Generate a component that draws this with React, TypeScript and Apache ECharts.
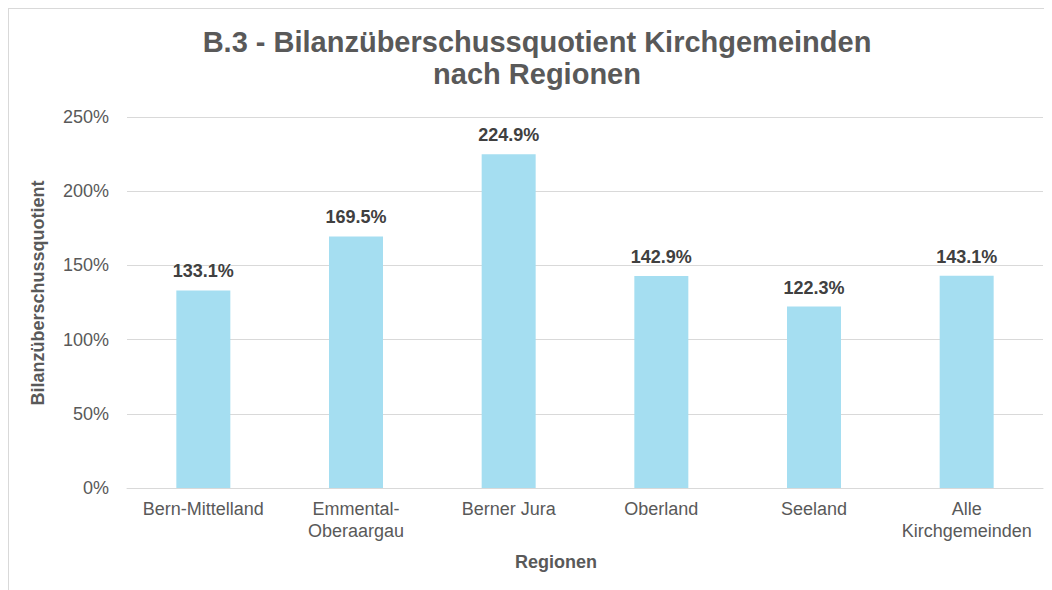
import React, { useEffect, useRef } from "react";
import * as echarts from "echarts";

const categories = ["Bern-Mittelland", "Emmental-\nOberaargau", "Berner Jura", "Oberland", "Seeland", "Alle\nKirchgemeinden"];
const values = [133.1, 169.5, 224.9, 142.9, 122.3, 143.1];
const titleLines = ["B.3 - Bilanzüberschussquotient Kirchgemeinden", "nach Regionen"];
const yAxisName = "Bilanzüberschussquotient";
const xAxisName = "Regionen";

export default function App() {
  const ref = useRef<HTMLDivElement>(null);
  useEffect(() => {
    const chart = echarts.init(ref.current!, null, { renderer: "svg" });
    const font = "'Liberation Sans', Arial, sans-serif";
    chart.setOption({
      animation: false,
      textStyle: { fontFamily: font },
      title: {
        text: titleLines.join("\n"),
        left: 523,
        top: 12,
        textAlign: "center",
        textStyle: { fontSize: 29, fontWeight: "bold", color: "#595959", lineHeight: 32, fontFamily: font },
      },
      grid: { left: 118, top: 108, width: 916, height: 371, containLabel: false },
      xAxis: {
        type: "category",
        data: categories,
        axisTick: { show: false },
        axisLine: { lineStyle: { color: "#d9d9d9", width: 1 } },
        axisLabel: { color: "#595959", fontSize: 18, lineHeight: 22, margin: 10, interval: 0, fontFamily: font },
      },
      yAxis: {
        type: "value",
        min: 0,
        max: 250,
        interval: 50,
        axisLabel: { formatter: "{value}%", color: "#595959", fontSize: 18, margin: 18, fontFamily: font },
        splitLine: { lineStyle: { color: "#d9d9d9", width: 1 } },
        axisLine: { show: false },
        axisTick: { show: false },
      },
      graphic: [
        {
          type: "text",
          x: 547,
          y: 553,
          style: {
            text: xAxisName,
            fontSize: 18,
            fontWeight: "bold",
            fill: "#595959",
            fontFamily: font,
            align: "center",
            verticalAlign: "middle",
          },
        },
        {
          type: "text",
          x: 29,
          y: 284,
          rotation: Math.PI / 2,
          style: {
            text: yAxisName,
            fontSize: 18,
            fontWeight: "bold",
            fill: "#595959",
            fontFamily: font,
            align: "center",
            verticalAlign: "middle",
          },
        },
      ],
      series: [
        {
          type: "bar",
          data: values,
          barWidth: 54,
          itemStyle: { color: "#A5DEF1" },
          label: {
            show: true,
            position: "top",
            distance: 10,
            formatter: (p: any) => p.value.toFixed(1) + "%",
            fontSize: 18,
            fontWeight: "bold",
            color: "#404040",
            fontFamily: font,
          },
        },
      ],
    });
    return () => chart.dispose();
  }, []);
  return (
    <div
      ref={ref}
      style={{ width: 1100, height: 620, border: "1px solid #d9d9d9", boxSizing: "border-box" }}
    />
  );
}
